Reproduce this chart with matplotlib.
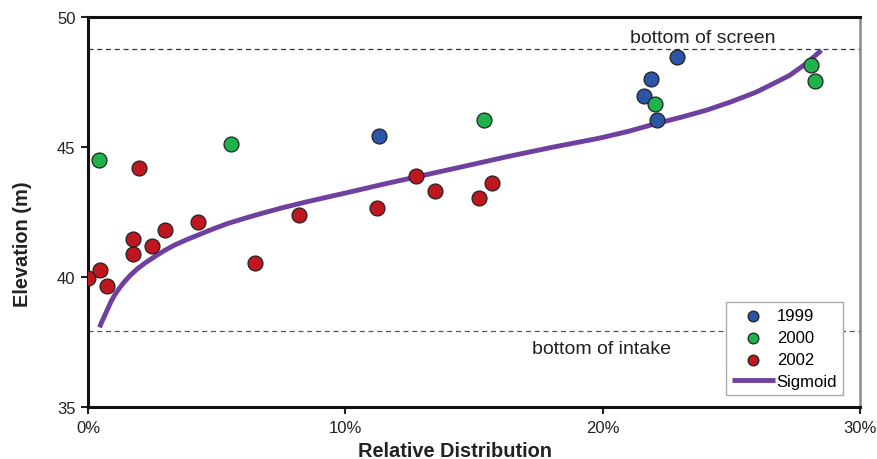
import matplotlib
matplotlib.use("Agg")
import matplotlib.pyplot as plt
from matplotlib.ticker import FuncFormatter

plt.rcParams['font.family'] = ['Liberation Sans', 'DejaVu Sans']

# Relative distribution (%) and elevation (m) per survey year
x_1999 = [11.3, 22.87, 21.86, 21.6, 22.13]
y_1999 = [45.43, 48.47, 47.6, 46.97, 46.05]

x_2000 = [0.43, 5.54, 15.4, 22.05, 28.1, 28.26]
y_2000 = [44.5, 45.1, 46.05, 46.66, 48.16, 47.55]

x_2002 = [0.0, 0.47, 0.74, 1.74, 1.74, 2.48, 2.98, 4.26, 6.5, 8.2, 2.0,
          11.24, 12.75, 13.5, 15.2, 15.7]
y_2002 = [39.95, 40.25, 39.64, 40.87, 41.48, 41.18, 41.79, 42.1, 40.53, 42.37, 44.2,
          42.67, 43.9, 43.29, 43.02, 43.6]

# fitted sigmoid curve
sig_x = [0.45, 0.53, 0.62, 0.7, 0.78, 0.9, 1.04, 1.22, 1.42, 1.66, 1.94, 2.25, 2.59,
         2.96, 3.37, 3.8, 4.27, 4.84, 5.44, 6.07, 6.73, 7.55, 8.41, 9.25, 10.1,
         11.4, 12.76, 14.5, 16.26, 18.0, 19.88, 21.0, 22.08, 23.0, 24.02, 25.0,
         25.97, 26.6, 27.26, 27.9, 28.5]
sig_y = [38.06, 38.26, 38.45, 38.63, 38.8, 39.06, 39.31, 39.57, 39.82, 40.08, 40.33, 40.56, 40.78,
         41.01, 41.23, 41.42, 41.61, 41.84, 42.06, 42.25, 42.44, 42.66, 42.87, 43.06, 43.25,
         43.55, 43.85, 44.23, 44.62, 44.98, 45.34, 45.6, 45.9, 46.13, 46.41, 46.74,
         47.11, 47.42, 47.75, 48.2, 48.72]

screen_elev = 48.77
intake_elev = 37.94

fig = plt.figure(figsize=(8.77, 4.6), dpi=100)
ax = fig.add_axes([0.1003, 0.113, 0.8803, 0.848])

ax.axhline(screen_elev, color='#333333', lw=0.9, ls=(0, (4, 3)), zorder=1)
ax.axhline(intake_elev, color='#555555', lw=0.9, ls=(0, (4, 3)), zorder=1)

ax.plot(sig_x, sig_y, color='#7040a0', lw=3.5, solid_capstyle='butt',
        solid_joinstyle='round', zorder=2, label='Sigmoid')

mk = dict(s=115, edgecolors='#222222', linewidths=0.9, zorder=3)
ax.scatter(x_1999, y_1999, color='#2b56a8', label='1999', **mk)
ax.scatter(x_2000, y_2000, color='#1db34a', label='2000', **mk)
ax.scatter(x_2002, y_2002, color='#c0161f', label='2002', **mk)

ax.text(23.9, 48.9, 'bottom of screen', fontsize=14, color='#222222', ha='center', va='bottom')
ax.text(19.94, 37.25, 'bottom of intake', fontsize=14, color='#222222', ha='center', va='center')

ax.set_xlim(0, 30)
ax.set_ylim(35, 50)
ax.set_xticks([0, 10, 20, 30])
ax.set_yticks([35, 40, 45, 50])
ax.xaxis.set_major_formatter(FuncFormatter(lambda v, p: f"{v:.0f}%"))
ax.tick_params(direction='out', length=5, width=1.5, labelsize=12, colors='#222222', pad=4)

for side in ['left', 'bottom', 'top']:
    ax.spines[side].set_color('#111111')
    ax.spines[side].set_linewidth(2.2)
ax.spines['right'].set_color('#8a8a8a')
ax.spines['right'].set_linewidth(1.8)

ax.set_xlabel('Relative Distribution', fontsize=14.4, fontweight='bold', color='#222222')
ax.set_ylabel('Elevation (m)', fontsize=14.4, fontweight='bold', color='#222222')
ax.xaxis.set_label_coords(0.475, -0.088)
ax.yaxis.set_label_coords(-0.0725, 0.42)

handles, labels = ax.get_legend_handles_labels()
order = [1, 2, 3, 0]
leg = ax.legend([handles[i] for i in order], [labels[i] for i in order],
                loc='lower right', bbox_to_anchor=(0.978, 0.031), borderaxespad=0,
                fontsize=12, frameon=True, fancybox=False, framealpha=1,
                edgecolor='#aaaaaa', borderpad=0.35, labelspacing=0.42,
                handlelength=2.6, handletextpad=0.1, markerscale=0.72)
leg.get_frame().set_linewidth(1.0)

fig.savefig('out.png', dpi=100)
